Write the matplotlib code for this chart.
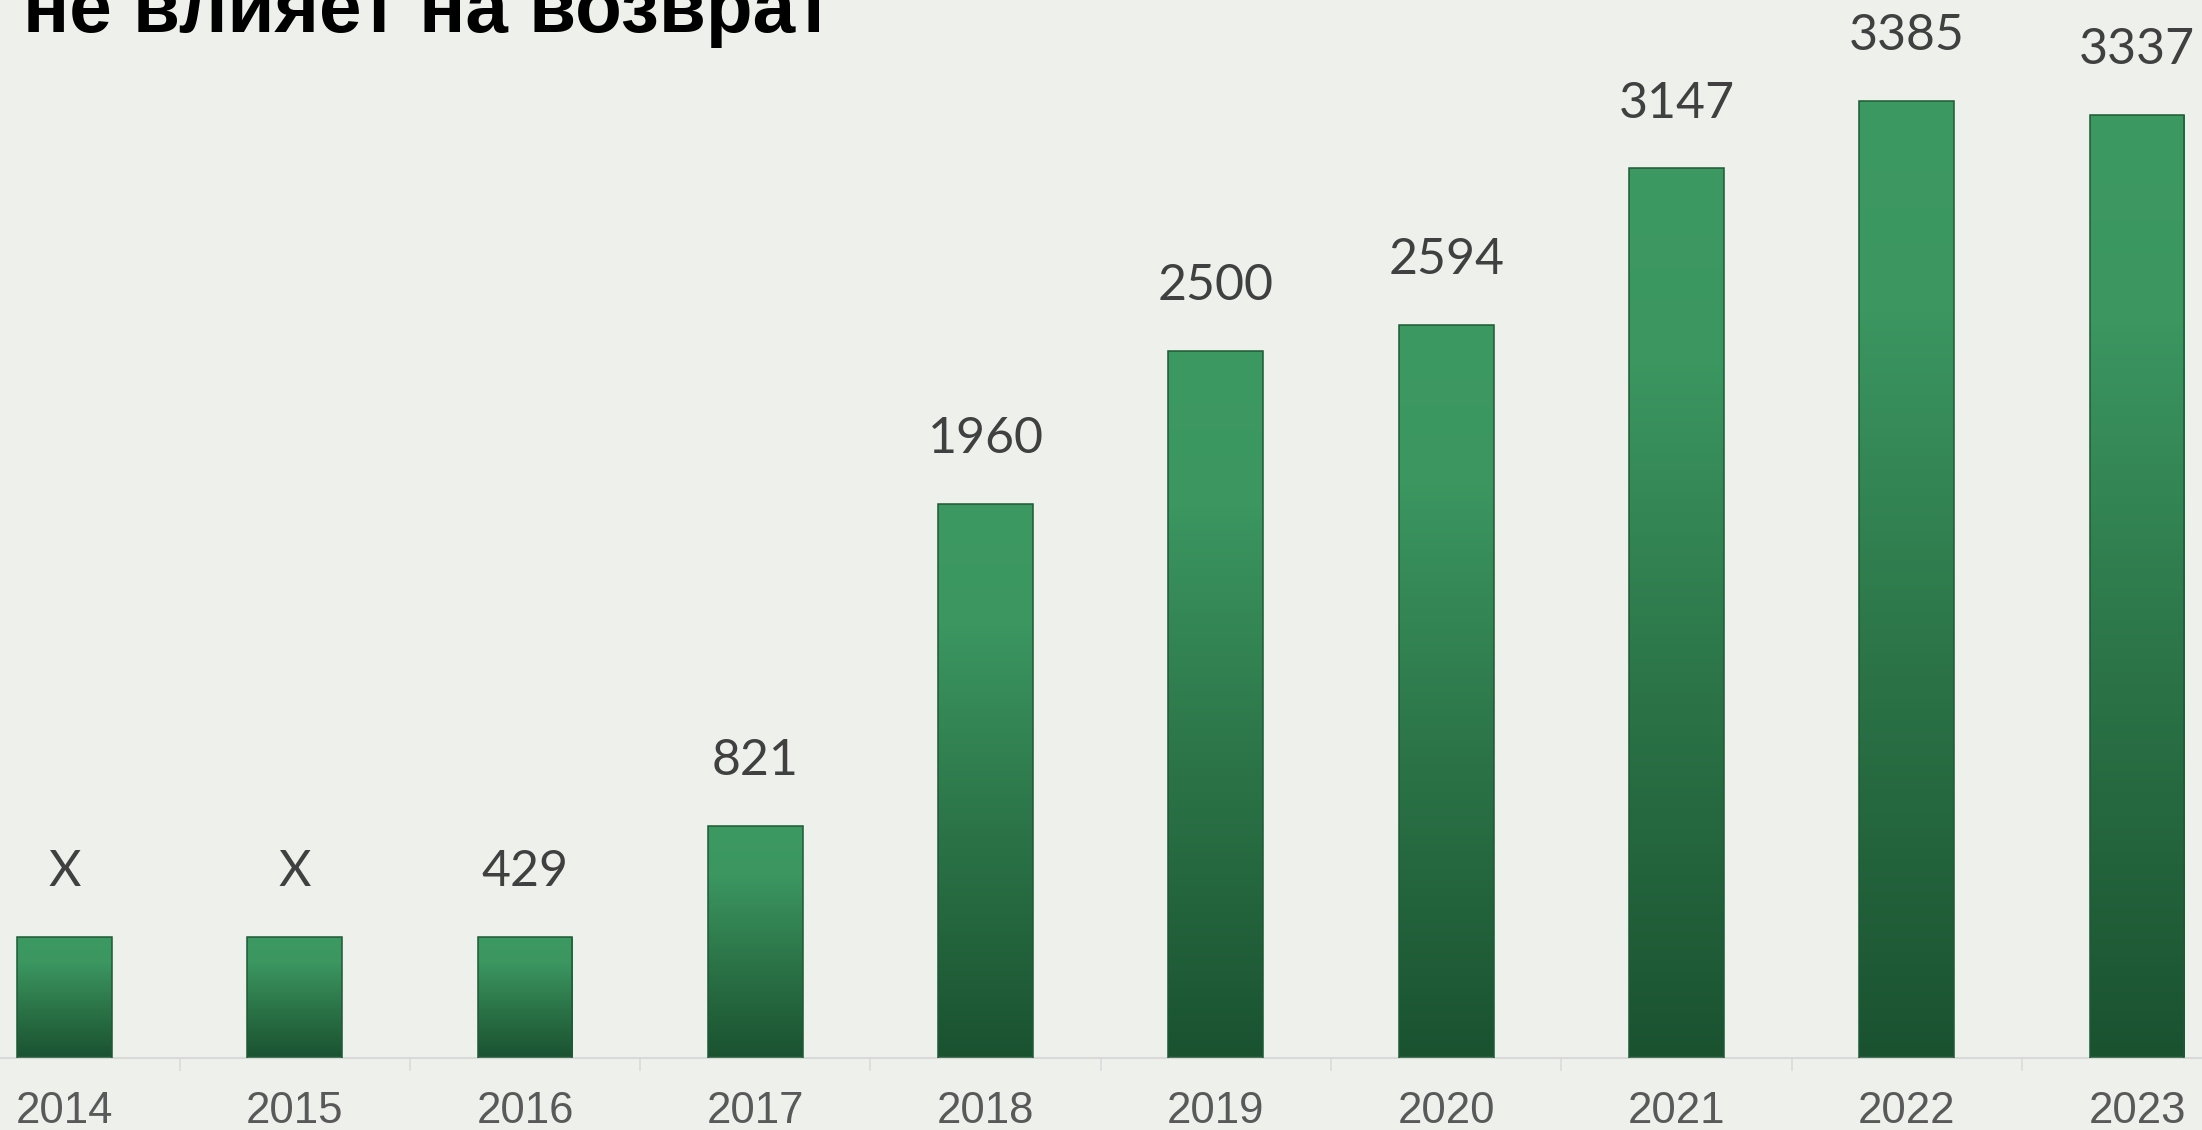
import numpy as np
import matplotlib.pyplot as plt
from matplotlib.colors import LinearSegmentedColormap

# data
years = ["2014", "2015", "2016", "2017", "2018", "2019", "2020", "2021", "2022", "2023"]
heights = [429, 429, 429, 821, 1960, 2500, 2594, 3147, 3385, 3337]   # 2014/2015 drawn as stubs
labels = ["X", "X", "429", "821", "1960", "2500", "2594", "3147", "3385", "3337"]
title = "не влияет на возврат"

bg = "#eef1eb"
W, H = 2202, 1130
fig = plt.figure(figsize=(W / 100, H / 100), dpi=100, facecolor=bg)
ax = fig.add_axes([0, 72 / H, 1, 1058 / H])
ax.set_facecolor(bg)

x = np.arange(len(years))
bw = 0.412
ax.set_xlim(-0.280, 9.282)
ax.set_ylim(0, 3742)

cmap = LinearSegmentedColormap.from_list(
    "grn", [(0, "#3d9962"), (0.22, "#3b9660"), (0.6, "#2b7347"), (1, "#1a5230")])
grad = np.linspace(0, 1, 256).reshape(-1, 1)

bars = ax.bar(x, heights, width=bw, facecolor="none", edgecolor="#1d5a34",
              linewidth=1.1, zorder=3)
for b in bars:
    x0, y0 = b.get_x(), b.get_y()
    im = ax.imshow(grad, cmap=cmap, aspect="auto", origin="upper",
                   extent=(x0, x0 + b.get_width(), y0, y0 + b.get_height()), zorder=2)
    im.set_clip_path(b)

for xi, h, lab in zip(x, heights, labels):
    ax.annotate(lab, (xi, h), xytext=(0, 36.5), textcoords="offset points",
                ha="center", va="baseline", fontsize=36, color="#404040",
                family="Lato")

for s in ["top", "left", "right"]:
    ax.spines[s].set_visible(False)
ax.spines["bottom"].set_color("#d9d9d9")
ax.spines["bottom"].set_linewidth(1.5)
ax.set_yticks([])
ax.set_xticks(x)
ax.set_xticklabels(years, fontsize=31.5, color="#595959", family="Liberation Sans")
ax.tick_params(axis="x", which="major", length=0, pad=24)
ax.set_xticks(x[:-1] + 0.5, minor=True)
ax.tick_params(axis="x", which="minor", length=9.4, width=1.1, color="#d9d9d9")

# the chart is cropped: only the lower part of the heading's last line is visible
fig.text(23 / W, 1 - 32 / H, title, fontsize=55, fontweight="bold", color="black",
         family="Liberation Sans", ha="left", va="baseline")

fig.savefig("out.png", dpi=100, facecolor=bg)
